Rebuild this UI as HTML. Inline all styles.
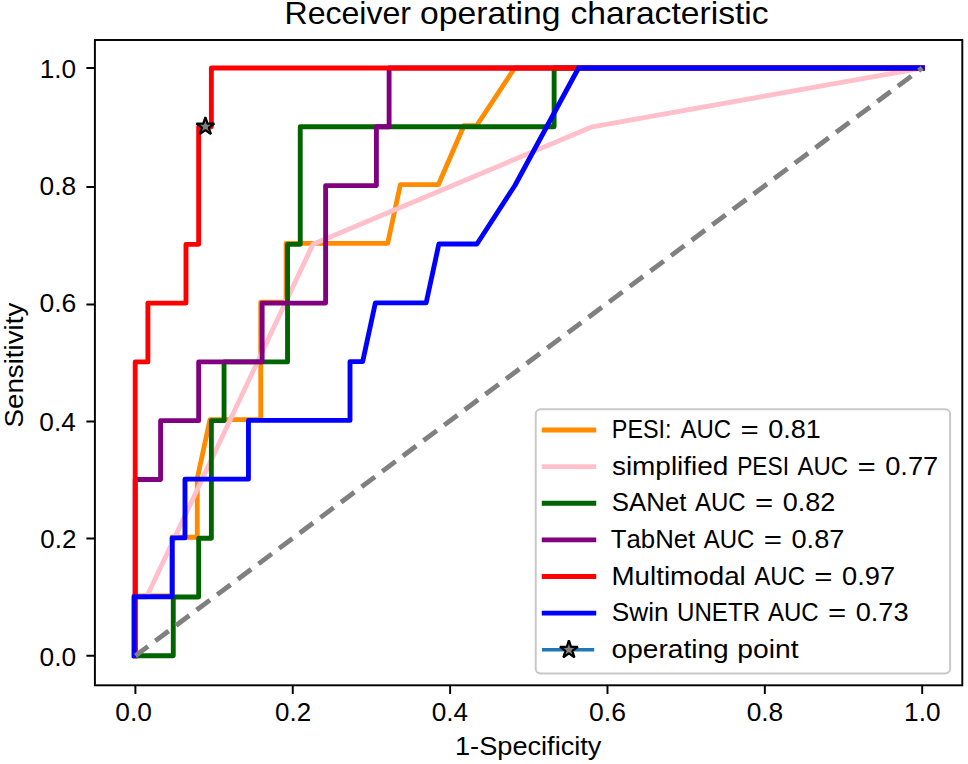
<!DOCTYPE html>
<html><head><meta charset="utf-8"><title>Receiver operating characteristic</title><style>
html,body{margin:0;padding:0;background:#fff;width:968px;height:764px;overflow:hidden;}
svg{display:block;}
text{font-family:"Liberation Sans",sans-serif;font-kerning:none;fill:#000;}
</style></head><body>
<svg width="968" height="764" viewBox="0 0 968 764">
<rect x="0" y="0" width="968" height="764" fill="#fff"/>
<g fill="none" stroke-width="4.86" stroke-linejoin="round" stroke-linecap="square">
<polyline stroke="#ff8c00" points="133.80,654.80 133.80,596.02 171.88,596.02 171.88,537.24 197.27,537.24 197.27,478.46 209.97,419.68 260.75,419.68 260.75,302.12 286.14,302.12 286.14,243.34 387.70,243.34 400.40,184.56 438.48,184.56 463.87,125.78 476.56,125.78 514.65,68.00 922.29,68.00"/>
<polyline stroke="#ffc0cb" points="135.20,655.80 135.20,597.02 146.63,597.02 312.93,244.34 592.22,126.78 922.29,68.00"/>
<polyline stroke="#006400" points="135.20,655.80 173.28,655.80 173.28,597.02 198.67,597.02 198.67,538.24 211.37,538.24 211.37,420.68 224.06,420.68 224.06,361.90 287.54,361.90 287.54,244.34 300.24,244.34 300.24,126.78 554.13,126.78 554.13,68.00 922.29,68.00"/>
<polyline stroke="#800080" points="135.20,655.80 135.20,479.46 160.59,479.46 160.59,420.68 198.67,420.68 198.67,361.90 262.15,361.90 262.15,303.12 325.62,303.12 325.62,185.56 376.40,185.56 376.40,126.78 389.10,126.78 389.10,68.00 922.29,68.00"/>
<polyline stroke="#ff0000" points="135.20,655.80 135.20,361.90 147.89,361.90 147.89,303.12 185.98,303.12 185.98,244.34 198.67,244.34 198.67,126.78 211.37,126.78 211.37,68.00 922.29,68.00"/>
<polyline stroke="#0000ff" points="134.20,655.50 134.20,596.72 172.28,596.72 172.28,537.94 184.98,537.94 184.98,479.16 248.45,479.16 248.45,420.38 350.01,420.38 350.01,361.60 362.71,361.60 375.40,302.82 426.19,302.82 438.88,244.04 476.96,244.04 515.05,185.26 578.52,68.00 922.29,68.00"/>
</g>
<line x1="135.40" y1="655.80" x2="922.20" y2="68.00" stroke="#808080" stroke-width="4.86" stroke-dasharray="16.6 9.15" stroke-dashoffset="0.83" stroke-linecap="butt"/>
<polygon points="205.40,117.20 203.29,123.70 196.46,123.70 201.99,127.71 199.87,134.20 205.40,130.19 210.93,134.20 208.81,127.71 214.34,123.70 207.51,123.70" fill="#808080" stroke="#000" stroke-width="2.2" stroke-linejoin="bevel"/>
<rect x="94.9" y="40.0" width="867.4" height="645.3" fill="none" stroke="#000" stroke-width="1.94" stroke-linecap="square"/>
<path d="M135.40 685.3V693.9 M94.9 655.80H86.4 M292.76 685.3V693.9 M94.9 538.50H86.4 M450.12 685.3V693.9 M94.9 421.50H86.4 M607.48 685.3V693.9 M94.9 304.50H86.4 M764.84 685.3V693.9 M94.9 187.00H86.4 M922.20 685.3V693.9 M94.9 68.00H86.4" stroke="#000" stroke-width="1.94" fill="none"/>
<text x="115.29" y="721.30" font-size="25.70" textLength="36.61" lengthAdjust="spacingAndGlyphs">0.0</text>
<text x="275.04" y="721.30" font-size="25.70" textLength="36.02" lengthAdjust="spacingAndGlyphs">0.2</text>
<text x="431.72" y="721.30" font-size="25.70" textLength="36.50" lengthAdjust="spacingAndGlyphs">0.4</text>
<text x="589.03" y="721.30" font-size="25.70" textLength="36.87" lengthAdjust="spacingAndGlyphs">0.6</text>
<text x="746.66" y="721.30" font-size="25.70" textLength="36.60" lengthAdjust="spacingAndGlyphs">0.8</text>
<text x="904.11" y="721.30" font-size="25.70" textLength="36.41" lengthAdjust="spacingAndGlyphs">1.0</text>
<text x="39.52" y="665.50" font-size="25.70" textLength="36.61" lengthAdjust="spacingAndGlyphs">0.0</text>
<text x="40.38" y="548.10" font-size="25.70" textLength="36.02" lengthAdjust="spacingAndGlyphs">0.2</text>
<text x="39.37" y="431.10" font-size="25.70" textLength="36.50" lengthAdjust="spacingAndGlyphs">0.4</text>
<text x="39.40" y="312.30" font-size="25.70" textLength="36.87" lengthAdjust="spacingAndGlyphs">0.6</text>
<text x="39.64" y="195.20" font-size="25.70" textLength="36.60" lengthAdjust="spacingAndGlyphs">0.8</text>
<text x="39.71" y="77.85" font-size="25.70" textLength="36.41" lengthAdjust="spacingAndGlyphs">1.0</text>
<text x="284.47" y="23.60" font-size="30.85" textLength="126.58" lengthAdjust="spacingAndGlyphs">Receiver</text>
<text x="420.10" y="23.60" font-size="30.85" textLength="140.44" lengthAdjust="spacingAndGlyphs">operating</text>
<text x="570.51" y="23.60" font-size="30.85" textLength="198.08" lengthAdjust="spacingAndGlyphs">characteristic</text>
<text x="455.03" y="754.60" font-size="25.70" textLength="146.42" lengthAdjust="spacingAndGlyphs">1-Specificity</text>
<text x="-1.26" y="0" font-size="25.70" textLength="124.91" lengthAdjust="spacingAndGlyphs" transform="translate(23.0,426.3) rotate(-90)">Sensitivity</text>
<rect x="535.7" y="409.3" width="414.4" height="264.1" rx="4.86" ry="4.86" fill="#fff" fill-opacity="0.8" stroke="#c8c8c8" stroke-width="2.0"/>
<line x1="544.2" y1="430.00" x2="593.8" y2="430.00" stroke="#ff8c00" stroke-width="4.86" stroke-linecap="square"/>
<text x="611.85" y="438.00" font-size="25.70" textLength="59.72" lengthAdjust="spacingAndGlyphs">PESI:</text>
<text x="680.42" y="438.00" font-size="25.70" textLength="50.74" lengthAdjust="spacingAndGlyphs">AUC</text>
<text x="740.50" y="438.00" font-size="25.70" textLength="18.24" lengthAdjust="spacingAndGlyphs">=</text>
<text x="768.20" y="438.00" font-size="25.70" textLength="52.63" lengthAdjust="spacingAndGlyphs">0.81</text>
<line x1="544.2" y1="466.63" x2="593.8" y2="466.63" stroke="#ffc0cb" stroke-width="4.86" stroke-linecap="square"/>
<text x="611.92" y="474.63" font-size="25.70" textLength="116.49" lengthAdjust="spacingAndGlyphs">simplified</text>
<text x="737.15" y="474.63" font-size="25.70" textLength="51.86" lengthAdjust="spacingAndGlyphs">PESI</text>
<text x="797.39" y="474.63" font-size="25.70" textLength="50.74" lengthAdjust="spacingAndGlyphs">AUC</text>
<text x="857.48" y="474.63" font-size="25.70" textLength="18.24" lengthAdjust="spacingAndGlyphs">=</text>
<text x="885.16" y="474.63" font-size="25.70" textLength="53.07" lengthAdjust="spacingAndGlyphs">0.77</text>
<line x1="544.2" y1="503.26" x2="593.8" y2="503.26" stroke="#006400" stroke-width="4.86" stroke-linecap="square"/>
<text x="611.89" y="511.26" font-size="25.70" textLength="74.54" lengthAdjust="spacingAndGlyphs">SANet</text>
<text x="694.96" y="511.26" font-size="25.70" textLength="50.74" lengthAdjust="spacingAndGlyphs">AUC</text>
<text x="755.05" y="511.26" font-size="25.70" textLength="18.24" lengthAdjust="spacingAndGlyphs">=</text>
<text x="782.75" y="511.26" font-size="25.70" textLength="52.54" lengthAdjust="spacingAndGlyphs">0.82</text>
<line x1="544.2" y1="539.89" x2="593.8" y2="539.89" stroke="#800080" stroke-width="4.86" stroke-linecap="square"/>
<text x="610.81" y="547.89" font-size="25.70" textLength="84.39" lengthAdjust="spacingAndGlyphs">TabNet</text>
<text x="703.75" y="547.89" font-size="25.70" textLength="50.73" lengthAdjust="spacingAndGlyphs">AUC</text>
<text x="763.82" y="547.89" font-size="25.70" textLength="18.24" lengthAdjust="spacingAndGlyphs">=</text>
<text x="791.51" y="547.89" font-size="25.70" textLength="52.93" lengthAdjust="spacingAndGlyphs">0.87</text>
<line x1="544.2" y1="576.52" x2="593.8" y2="576.52" stroke="#ff0000" stroke-width="4.86" stroke-linecap="square"/>
<text x="611.49" y="584.52" font-size="25.70" textLength="134.28" lengthAdjust="spacingAndGlyphs">Multimodal</text>
<text x="754.27" y="584.52" font-size="25.70" textLength="50.74" lengthAdjust="spacingAndGlyphs">AUC</text>
<text x="814.35" y="584.52" font-size="25.70" textLength="18.24" lengthAdjust="spacingAndGlyphs">=</text>
<text x="842.03" y="584.52" font-size="25.70" textLength="53.07" lengthAdjust="spacingAndGlyphs">0.97</text>
<line x1="544.2" y1="613.15" x2="593.8" y2="613.15" stroke="#0000ff" stroke-width="4.86" stroke-linecap="square"/>
<text x="611.87" y="621.15" font-size="25.70" textLength="56.76" lengthAdjust="spacingAndGlyphs">Swin</text>
<text x="676.97" y="621.15" font-size="25.70" textLength="83.10" lengthAdjust="spacingAndGlyphs">UNETR</text>
<text x="767.94" y="621.15" font-size="25.70" textLength="50.73" lengthAdjust="spacingAndGlyphs">AUC</text>
<text x="828.01" y="621.15" font-size="25.70" textLength="18.24" lengthAdjust="spacingAndGlyphs">=</text>
<text x="855.71" y="621.15" font-size="25.70" textLength="52.84" lengthAdjust="spacingAndGlyphs">0.73</text>
<line x1="542.0" y1="649.78" x2="594.2" y2="649.78" stroke="#1f77b4" stroke-width="3.4"/>
<polygon points="568.90,640.38 566.79,646.88 559.96,646.88 565.49,650.89 563.37,657.38 568.90,653.37 574.43,657.38 572.31,650.89 577.84,646.88 571.01,646.88" fill="#808080" stroke="#000" stroke-width="2.2" stroke-linejoin="bevel"/>
<text x="611.62" y="657.78" font-size="25.70" textLength="117.05" lengthAdjust="spacingAndGlyphs">operating</text>
<text x="737.32" y="657.78" font-size="25.70" textLength="61.21" lengthAdjust="spacingAndGlyphs">point</text>
</svg>
</body></html>
